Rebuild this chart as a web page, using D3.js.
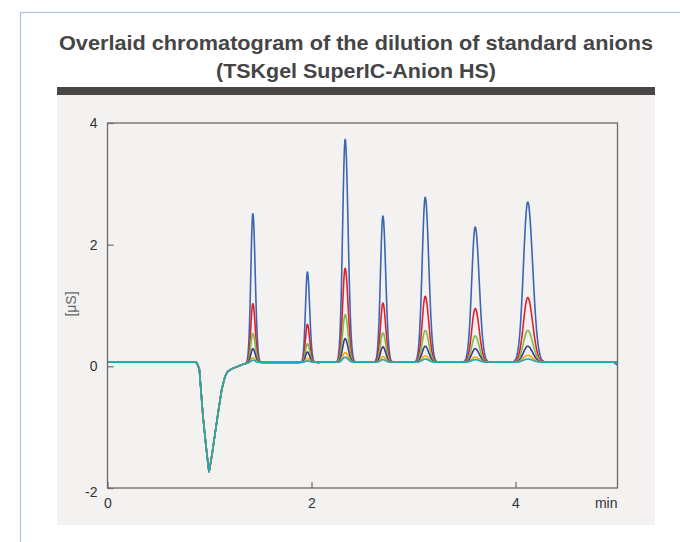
<!DOCTYPE html>
<html>
<head>
<meta charset="utf-8">
<script src="https://cdn.jsdelivr.net/npm/d3@7"></script>
<style>
  html, body { margin: 0; padding: 0; background: #ffffff; }
  svg { display: block; }
  text { font-family: "Liberation Sans", Arial, Helvetica, sans-serif; }
</style>
</head>
<body>
<svg id="chart" width="680" height="542"></svg>
<script>
// ---------------- data ----------------
const titleLines = ["Overlaid chromatogram of the dilution of standard anions", "(TSKgel SuperIC-Anion HS)"];
const yAxisLabel = "[\u03bcS]";
const xAxisUnit = "min";
const xTicks = [0, 2, 4];
const yTicks = [-2, 0, 2, 4];
const xTickLabels = ["0", "2", "4"];
const yTickLabels = ["-2", "0", "2", "4"];

// peak retention times (min) and peak widths (sigma, min)
const retentionTimes = [1.425, 1.96, 2.33, 2.70, 3.115, 3.605, 4.12];
const peakWidths     = [0.020, 0.019, 0.025, 0.024, 0.030, 0.034, 0.042];

// apex values (µS) per dilution level, highest concentration first
const seriesNames  = ["level 1", "level 2", "level 3", "level 4", "level 5", "level 6"];
const seriesColors = ["#3a66b4", "#e41f2d", "#7bbf45", "#3c3a8c", "#f2a900", "#1ea7b8"];
const apexLevel1 = [2.51, 1.55, 3.73, 2.47, 2.78, 2.29, 2.70];
const apexLevel2 = [1.03, 0.69, 1.61, 1.04, 1.15, 0.95, 1.13];
const apexLevel3 = [0.54, 0.37, 0.85, 0.55, 0.59, 0.50, 0.59];
const apexLevel4 = [0.29, 0.235, 0.455, 0.32, 0.33, 0.29, 0.33];
const apexLevel5 = [0.14, 0.13, 0.225, 0.16, 0.17, 0.15, 0.18];
const apexLevel6 = [0.10, 0.09, 0.15, 0.11, 0.12, 0.11, 0.12];

// common baseline incl. the water dip (min, µS)
const baselineTimes  = [0.00, 0.86, 0.875, 0.90, 0.935, 0.965, 0.995, 1.025, 1.055, 1.09, 1.12, 1.15, 1.175, 1.22, 1.28, 1.33, 1.38, 1.45, 4.95, 5.00];
const baselineValues = [0.07, 0.07, 0.06, -0.04, -0.80, -1.30, -1.74, -1.45, -1.10, -0.70, -0.38, -0.18, -0.09, -0.04, 0.00, 0.035, 0.055, 0.065, 0.07, 0.07];
// level 1 drifts down at the very end
const level1TailTimes  = [4.96, 5.00];
const level1TailValues = [0.0, -0.05];

// ---------------- build ----------------
const apexAll = [apexLevel1, apexLevel2, apexLevel3, apexLevel4, apexLevel5, apexLevel6];
const svg = d3.select("#chart");

// card
svg.append("rect").attr("x", 20.5).attr("y", 12.5).attr("width", 700).attr("height", 600)
  .attr("fill", "#ffffff").attr("stroke", "#a9c4e6").attr("stroke-width", 1.2);

// grey panel and dark bar
svg.append("rect").attr("x", 57).attr("y", 95).attr("width", 598).attr("height", 430).attr("fill", "#f3f2f0");
svg.append("rect").attr("x", 57).attr("y", 87).attr("width", 598).attr("height", 8).attr("fill", "#4a4645");

// title
const titleLens = [594, 280];
const titleBase = [49.5, 77.5];
titleLines.forEach((t, i) => {
  svg.append("text").attr("x", 356).attr("y", titleBase[i]).attr("text-anchor", "middle")
    .attr("font-size", 21).attr("font-weight", "bold").attr("fill", "#454545")
    .attr("textLength", titleLens[i]).attr("lengthAdjust", "spacingAndGlyphs")
    .text(t);
});

// scales
const x = d3.scaleLinear().domain([0, 5]).range([107.5, 617.5]);
const y = d3.scaleLinear().domain([-2, 4]).range([488, 123]);

// curves
const baseInterp = (t, ts, vs) => {
  const i = d3.bisectRight(ts, t);
  if (i <= 0) return vs[0];
  if (i >= ts.length) return vs[vs.length - 1];
  const t0 = ts[i - 1], t1 = ts[i];
  return vs[i - 1] + (vs[i] - vs[i - 1]) * (t - t0) / (t1 - t0);
};
const tGrid = d3.range(0, 5.0001, 0.002);
function seriesValues(si) {
  const apex = apexAll[si];
  return tGrid.map(t => {
    let v = baseInterp(t, baselineTimes, baselineValues);
    retentionTimes.forEach((rt, k) => {
      const b = baseInterp(rt, baselineTimes, baselineValues);
      const h = apex[k] - b;
      const s = t < rt ? peakWidths[k] : peakWidths[k] * 1.15;
      v += h * Math.exp(-0.5 * ((t - rt) / s) ** 2);
    });
    if (si === 0 && t > level1TailTimes[0]) {
      v += baseInterp(t, level1TailTimes, level1TailValues);
    }
    return [t, v];
  });
}

svg.append("clipPath").attr("id", "plotclip").append("rect")
  .attr("x", x(0)).attr("y", y(4)).attr("width", x(5) - x(0)).attr("height", y(-2) - y(4));

const line = d3.line().x(d => x(d[0])).y(d => y(d[1]));
const gLines = svg.append("g").attr("clip-path", "url(#plotclip)");
seriesNames.forEach((name, si) => {
  gLines.append("path").datum(seriesValues(si))
    .attr("fill", "none").attr("stroke", seriesColors[si]).attr("stroke-width", 1.6)
    .attr("stroke-linejoin", "round").attr("d", line);
});

// frame
svg.append("rect").attr("x", x(0)).attr("y", y(4)).attr("width", x(5) - x(0)).attr("height", y(-2) - y(4))
  .attr("fill", "none").attr("stroke", "#6f6868").attr("stroke-width", 1.3);

// axes
const yAxis = d3.axisLeft(y).tickValues(yTicks).tickFormat((d, i) => yTickLabels[i]).tickSizeInner(-6).tickSizeOuter(0).tickPadding(10);
const gy = svg.append("g").attr("transform", `translate(${x(0)},0)`).call(yAxis);
const xAxis = d3.axisBottom(x).tickValues(xTicks).tickFormat((d, i) => xTickLabels[i]).tickSizeInner(-6).tickSizeOuter(0).tickPadding(10);
const gx = svg.append("g").attr("transform", `translate(0,${y(-2)})`).call(xAxis);
[gx, gy].forEach(g => {
  g.select(".domain").remove();
  g.selectAll(".tick line").attr("stroke", "#6f6868").attr("stroke-width", 1.2);
  g.selectAll(".tick text").attr("font-size", 14).attr("fill", "#333333")
    .style("font-family", "'Liberation Sans', Arial, Helvetica, sans-serif");
});
gy.selectAll(".tick").filter(d => d === -2).select("text").attr("dy", "0.62em");

// unit and axis label
svg.append("text").attr("x", x(5)).attr("y", y(-2) + 10).attr("dy", "0.71em").attr("text-anchor", "end")
  .attr("font-size", 14).attr("fill", "#333333").text(xAxisUnit);
svg.append("text").attr("transform", "translate(71,304) rotate(-90)").attr("text-anchor", "middle")
  .attr("dy", "0.35em").attr("font-size", 14).attr("fill", "#666666").text(yAxisLabel);
</script>
</body>
</html>
